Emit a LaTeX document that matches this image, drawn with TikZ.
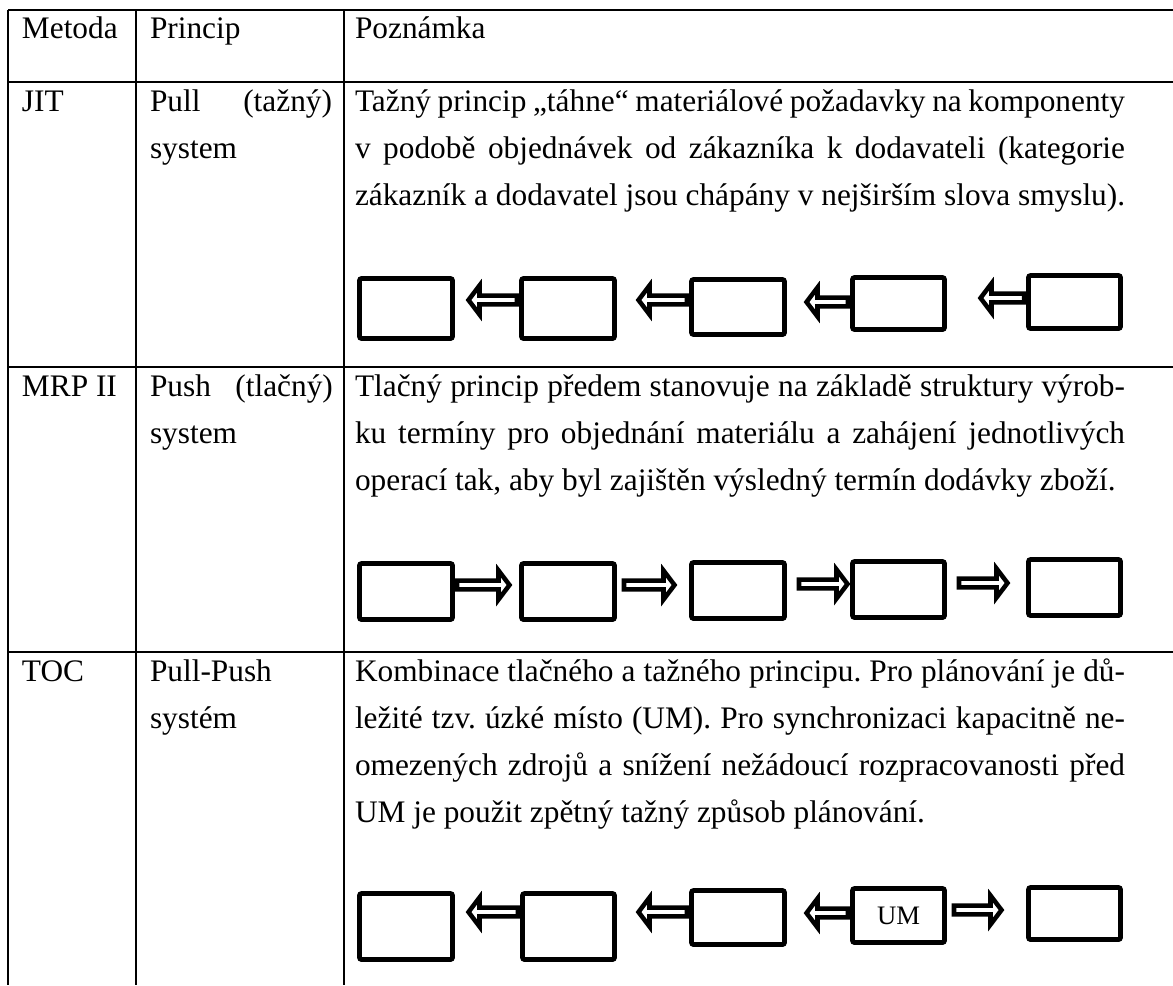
\documentclass[tikz,border=0pt]{standalone}
\usepackage{fontspec}
\setmainfont{Liberation Serif}
\frenchspacing
\newcommand\jline[2]{\makebox[#1][s]{#2}}
\tikzset{
  grid/.style={line width=0.75pt},
  txt/.style={anchor=base west,inner sep=0pt,outer sep=0pt,font=\fontsize{11.75}{14}\selectfont},
  blk/.style 2 args={draw,line width=1.8pt,rounded corners=0.8pt,inner sep=0pt,outer sep=0pt,
     minimum width=#1*0.375pt,minimum height=#2*0.375pt,font=\fontsize{10}{12}\selectfont},
  blockarrow/.pic={
    \draw[line width=1.7pt,line join=miter,fill=white]
      (0,-4.3) -- (#1-11,-4.3) -- (#1-11,-14.5) -- (#1,0)
      -- (#1-11,14.5) -- (#1-11,4.3) -- (0,4.3) -- cycle;
  }
}
\begin{document}
\begin{tikzpicture}[x=0.375pt,y=-0.375pt]
\useasboundingbox (0,0) rectangle (1173,985);
% table rules
\draw[grid] (8,10) -- (1173,10);
\draw[grid] (8,82) -- (1173,82);
\draw[grid] (8,367) -- (1173,367);
\draw[grid] (8,652) -- (1173,652);
\draw[grid] (8,10) -- (8,985);
\draw[grid] (136,10) -- (136,985);
\draw[grid] (344,10) -- (344,985);
% header
\node[txt] (h1) at (22,38) {Metoda};
\node[txt] (h2) at (150,38) {Princip};
\node[txt] (h3) at (355,38) {Poznámka};
% JIT row
\node[txt] (j1) at (22,111) {JIT};
\node[txt] (j2a) at (150,111) {\jline{68.25pt}{Pull (tažný)}};
\node[txt] (j2b) at (150,158) {system};
\node[txt] (j3a) at (355,111) {\jline{288.75pt}{Tažný princip „táhne“ materiálové požadavky na komponenty}};
\node[txt] (j3b) at (355,158) {\jline{288.75pt}{v podobě objednávek od zákazníka k dodavateli (kategorie}};
\node[txt] (j3c) at (355,205) {zákazník a dodavatel jsou chápány v nejširším slova smyslu).};
% MRP row
\node[txt] (m1) at (22,396) {MRP II};
\node[txt] (m2a) at (150,396) {\jline{68.6pt}{Push (tlačný)}};
\node[txt] (m2b) at (150,443) {system};
\node[txt] (m3a) at (355,396) {\jline{288.75pt}{Tlačný princip předem stanovuje na základě struktury výrob-}};
\node[txt] (m3b) at (355,443) {\jline{288.75pt}{ku termíny pro objednání materiálu a zahájení jednotlivých}};
\node[txt] (m3c) at (355,490) {operací tak, aby byl zajištěn výsledný termín dodávky zboží.};
% TOC row
\node[txt] (t1) at (22,681) {TOC};
\node[txt] (t2a) at (150,681) {Pull-Push};
\node[txt] (t2b) at (150,728) {systém};
\node[txt] (t3a) at (355,681) {\jline{288.75pt}{Kombinace tlačného a tažného principu. Pro plánování je dů-}};
\node[txt] (t3b) at (355,728) {\jline{288.75pt}{ležité tzv. úzké místo (UM). Pro synchronizaci kapacitně ne-}};
\node[txt] (t3c) at (355,775) {\jline{288.75pt}{omezených zdrojů a snížení nežádoucí rozpracovanosti před}};
\node[txt] (t3d) at (355,822) {UM je použit zpětný tažný způsob plánování.};
% row 1 boxes
\node[blk={93}{60}] (b11) at (406,308.5) {};
\node[blk={93}{60}] (b12) at (568,308.5) {};
\node[blk={93}{55}] (b13) at (738,307) {};
\node[blk={92}{52}] (b14) at (898.5,303.5) {};
\node[blk={92}{53}] (b15) at (1074.5,302) {};
\pic[rotate=180] at (517,300) {blockarrow=48.5};
\pic[rotate=180] at (687,300) {blockarrow=48.5};
\pic[rotate=180] at (848,302) {blockarrow=41.5};
\pic[rotate=180] at (1024,298) {blockarrow=43.5};
% row 2 boxes
\node[blk={93}{56}] (b21) at (406,591.5) {};
\node[blk={93}{56}] (b22) at (568,591.5) {};
\node[blk={93}{56}] (b23) at (738,590.5) {};
\node[blk={92}{56}] (b24) at (898.5,589.5) {};
\node[blk={92}{56}] (b25) at (1074.5,587.5) {};
\pic at (457,585) {blockarrow=52.5};
\pic at (624,585) {blockarrow=50.5};
\pic at (799,584) {blockarrow=48.5};
\pic at (959,583) {blockarrow=48.5};
% row 3 boxes
\node[blk={93}{66}] (b31) at (406,926.5) {};
\node[blk={92}{66}] (b32) at (568.5,926.5) {};
\node[blk={93}{54}] (b33) at (738,917.5) {};
\node[blk={92}{54}] (b34) at (898.5,915.5) {UM};
\node[blk={92}{52}] (b35) at (1074.5,913.5) {};
\pic[rotate=180] at (518,912) {blockarrow=49.5};
\pic[rotate=180] at (687,912) {blockarrow=48.5};
\pic[rotate=180] at (848,913) {blockarrow=41.5};
\pic at (954,910) {blockarrow=47.5};
\end{tikzpicture}
\end{document}
